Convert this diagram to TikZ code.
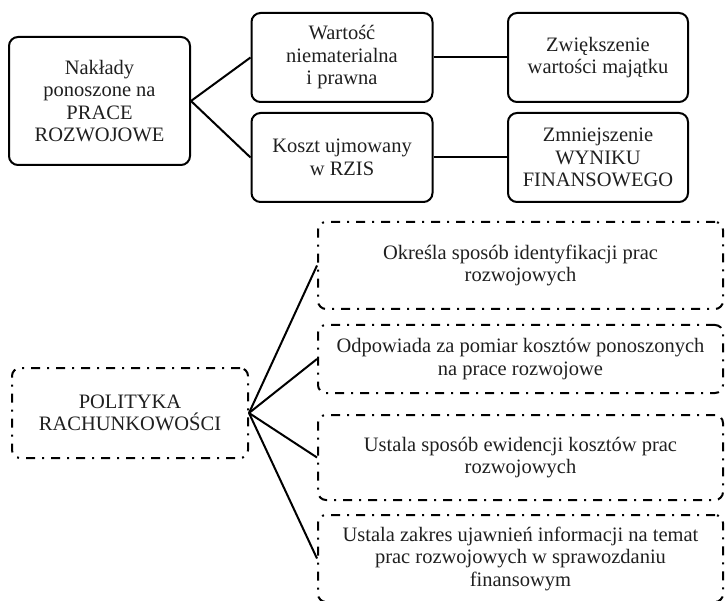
\documentclass[tikz,border=0pt]{standalone}
\usepackage{fontspec}
\setmainfont{Liberation Serif}
\begin{document}
\begin{tikzpicture}[x=1pt,y=-1pt,
  txt/.style={font=\fontsize{20.5}{22.5}\selectfont, align=center, inner sep=0pt, text=black!88},
  solidbox/.style={txt, draw=black, line width=2pt, rounded corners=9pt},
  dashbox/.style={txt, draw=black, line width=2pt, rounded corners=8pt,
    dash pattern=on 9pt off 7pt on 2pt off 7pt},
  conn/.style={draw=black, line width=2pt}]
\useasboundingbox (0,0) rectangle (725,601);
\clip (0,0) rectangle (725,601);
% top part
\node[solidbox, minimum width=181pt, minimum height=128pt] (A) at (99.5,101)
  {Nakłady\\ponoszone na\\PRACE\\ROZWOJOWE};
\node[solidbox, minimum width=181pt, minimum height=89pt] (B) at (342,57.5)
  {Wartość\\niematerialna\\i prawna};
\node[solidbox, minimum width=181pt, minimum height=89pt] (C) at (342,157.5)
  {Koszt ujmowany\\w RZIS};
\node[solidbox, minimum width=180pt, minimum height=89pt] (D) at (598,57.5)
  {Zwiększenie\\wartości majątku};
\node[solidbox, minimum width=180pt, minimum height=89pt] (E) at (598,157.5)
  {Zmniejszenie\\WYNIKU\\FINANSOWEGO};
\draw[conn] (A.east) -- (B.west);
\draw[conn] (A.east) -- (C.west);
\draw[conn] (B.east) -- (D.west);
\draw[conn] (C.east) -- (E.west);
% bottom part
\node[dashbox, minimum width=236pt, minimum height=90pt] (P) at (130,413)
  {POLITYKA\\RACHUNKOWOŚCI};
\node[dashbox, minimum width=405pt, minimum height=87pt] (R1) at (520.5,265.5)
  {Określa sposób identyfikacji prac\\rozwojowych};
\node[dashbox, minimum width=405pt, minimum height=68pt] (R2) at (520.5,359)
  {Odpowiada za pomiar kosztów ponoszonych\\na prace rozwojowe};
\node[dashbox, minimum width=405pt, minimum height=85pt] (R3) at (520.5,457.5)
  {Ustala sposób ewidencji kosztów prac\\rozwojowych};
\node[dashbox, minimum width=405pt, minimum height=87pt] (R4) at (520.5,558.5)
  {Ustala zakres ujawnień informacji na temat\\prac rozwojowych w sprawozdaniu\\finansowym};
\draw[conn] (P.east) -- (R1.west);
\draw[conn] (P.east) -- (R2.west);
\draw[conn] (P.east) -- (R3.west);
\draw[conn] (P.east) -- (R4.west);
\end{tikzpicture}
\end{document}
